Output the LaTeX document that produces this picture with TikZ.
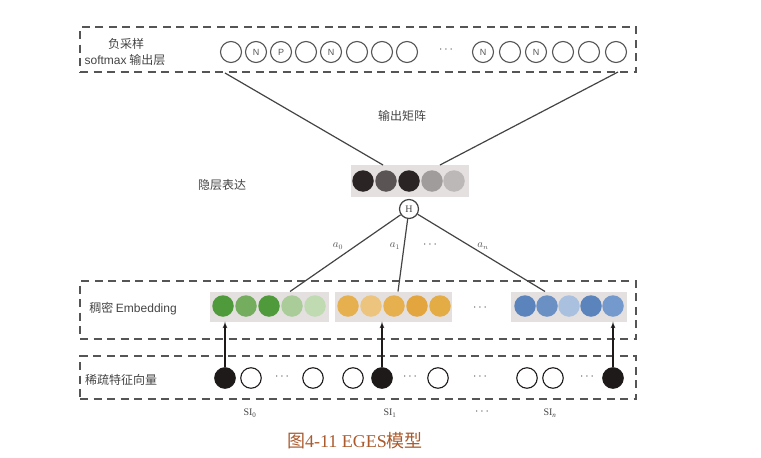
\documentclass[tikz,border=0pt]{standalone}
\usepackage{fontspec}
\setmainfont{Liberation Sans}
\newfontfamily\cjk{Noto Sans CJK SC}
\newfontfamily\serifnum{Liberation Serif}
\usetikzlibrary{shapes,arrows,positioning}
\definecolor{linegray}{HTML}{555555}
\definecolor{textgray}{HTML}{444444}
\definecolor{bggray}{HTML}{E4E0E0}
\definecolor{capcolor}{RGB}{170,90,45}
\definecolor{hidA}{HTML}{2B2424}
\definecolor{hidB}{HTML}{5A5454}
\definecolor{hidC}{HTML}{A09C9C}
\definecolor{hidD}{HTML}{BCB8B8}
\definecolor{grnA}{HTML}{4F9A3A}
\definecolor{grnB}{HTML}{75AD5E}
\definecolor{grnC}{HTML}{A9CC99}
\definecolor{grnD}{HTML}{C0DAB2}
\definecolor{orgA}{HTML}{E6B04F}
\definecolor{orgB}{HTML}{ECC47D}
\definecolor{orgC}{HTML}{E3A63E}
\definecolor{orgD}{HTML}{E3AC45}
\definecolor{bluA}{HTML}{5B84BD}
\definecolor{bluB}{HTML}{6A90C4}
\definecolor{bluC}{HTML}{A9C0DF}
\definecolor{bluD}{HTML}{7499CC}
\definecolor{sparseblack}{HTML}{1E1A1A}
\tikzstyle{layer} = [rectangle, draw=linegray, line width=1.7pt,
    dash pattern=on 8pt off 5.5pt, minimum width=556pt, inner sep=0pt]
\tikzstyle{layertext} = [font=\cjk\fontsize{12}{13}\selectfont, text=textgray, inner sep=0pt]
\tikzstyle{unit} = [circle, draw=linegray, line width=1.1pt, minimum size=21pt,
    inner sep=0pt, font=\fontsize{9}{9}\selectfont, text=linegray]
\tikzstyle{ball} = [circle, minimum size=21.5pt, inner sep=0pt]
\tikzstyle{groupbg} = [rectangle, fill=bggray, minimum height=30pt, inner sep=0pt]
\tikzstyle{sparse} = [circle, draw=sparseblack, line width=1.1pt, minimum size=20.5pt, inner sep=0pt]
\tikzstyle{dots} = [text=textgray, inner sep=0pt, font=\fontsize{12}{12}\selectfont]
\tikzstyle{weight} = [text=linegray, inner sep=0pt, font=\fontsize{10.5}{11}\selectfont]
\tikzstyle{silabel} = [text=textgray, inner sep=0pt, font=\serifnum\fontsize{10}{11}\selectfont]
\tikzstyle{line} = [draw=textgray, line width=1.2pt]
\tikzstyle{uparrow} = [draw=sparseblack, line width=1.2pt, -latex']

\begin{document}
\begin{tikzpicture}[x=1pt,y=-1pt]
		\useasboundingbox (0,0) rectangle (761,458);
		% Draw layers
		\node [layer, minimum height=45pt] (outlayer) at (358,49.5) {};
		\node [layer, minimum height=58pt] (denselayer) at (358,310) {};
		\node [layer, minimum height=43pt] (sparselayer) at (358,377.5) {};
		% Layer texts
		\node [layertext] (negtext) at (126,44) {负采样};
		\node [layertext] (softtext) at (125,60) {{\rmfamily softmax} 输出层};
		\node [layertext] (mattext) at (402,116) {输出矩阵};
		\node [layertext] (hidtext) at (222,185) {隐层表达};
		\node [layertext] (densetext) at (133,309) {稠密 {\rmfamily Embedding}};
		\node [layertext] (sparsetext) at (121,380) {稀疏特征向量};
		% Output units
		\foreach \x/\t [count=\i] in {231/,256/N,281/P,306/,331/N,357/,382/,407/}
			\node [unit] (o\i) at (\x,52) {\t};
		\node [dots] (odots) at (446,50) {$\cdots$};
		\foreach \x/\t [count=\i] in {483/N,510/,536/N,563/,589/,616/}
			\node [unit] (p\i) at (\x,52) {\t};
		% Hidden layer
		\node [groupbg, minimum width=118pt, minimum height=32pt] (hidden) at (410,181) {};
		\foreach \x/\c [count=\i] in {363/hidA,386/hidB,409/hidA,432/hidC,454/hidD}
			\node [ball, fill=\c] (h\i) at (\x,181) {};
		\node [circle, draw=textgray, fill=white, line width=1.2pt, minimum size=19pt,
			inner sep=0pt, font=\serifnum\fontsize{10}{10}\selectfont, text=textgray] (H) at (409,209) {H};
		% Dense embeddings
		\node [groupbg, minimum width=119pt] (greenbg) at (269.5,306.5) {};
		\node [groupbg, minimum width=117pt] (orangebg) at (393.5,306.5) {};
		\node [groupbg, minimum width=116pt] (bluebg) at (569,306.5) {};
		\foreach \x/\c [count=\i] in {223/grnA,246/grnB,269/grnA,292/grnC,315/grnD}
			\node [ball, fill=\c] (g\i) at (\x,306) {};
		\foreach \x/\c [count=\i] in {348/orgA,371/orgB,394/orgA,417/orgC,440/orgD}
			\node [ball, fill=\c] (y\i) at (\x,306) {};
		\foreach \x/\c [count=\i] in {525/bluA,547/bluB,569/bluC,591/bluA,613/bluD}
			\node [ball, fill=\c] (b\i) at (\x,306) {};
		\node [dots] (edots) at (480,308) {$\cdots$};
		% Sparse features
		\node [sparse, fill=sparseblack] (s1) at (225,378) {};
		\node [sparse] (s2) at (251,378) {};
		\node [dots] (sd1) at (282,377) {$\cdots$};
		\node [sparse] (s3) at (313,378) {};
		\node [sparse] (s4) at (353,378) {};
		\node [sparse, fill=sparseblack] (s5) at (382,378) {};
		\node [dots] (sd2) at (410,377) {$\cdots$};
		\node [sparse] (s6) at (438,378) {};
		\node [dots] (sd3) at (480,377) {$\cdots$};
		\node [sparse] (s7) at (527,378) {};
		\node [sparse] (s8) at (553,378) {};
		\node [dots] (sd4) at (587,377) {$\cdots$};
		\node [sparse, fill=sparseblack] (s9) at (613,378) {};
		% Side information labels
		\node [silabel] (si0) at (250,413) {SI\textsubscript{0}};
		\node [silabel] (si1) at (390,413) {SI\textsubscript{1}};
		\node [dots] (sidots) at (482,412) {$\cdots$};
		\node [silabel] (sin) at (550,413) {SI\textsubscript{\textit{n}}};
		% Weights
		\node [weight] (a0) at (338,246) {$a_0$};
		\node [weight] (a1) at (395,246) {$a_1$};
		\node [dots] (adots) at (430,245) {$\cdots$};
		\node [weight] (an) at (483,246) {$a_n$};
		% Helper coordinates
		\coordinate (outl) at (225,73);
		\coordinate (outr) at (618,72);
		\coordinate (hidl) at (383,165);
		\coordinate (hidr) at (440,165);
		\coordinate (greentop) at (290,291.5);
		\coordinate (orangetop) at (398,291.5);
		\coordinate (bluetop) at (545,291.5);
		% Draw lines connecting (arrows)
		\path [line] (hidl) -- (outl);
		\path [line] (hidr) -- (outr);
		\path [line] (H) -- (greentop);
		\path [line] (H) -- (orangetop);
		\path [line] (H) -- (bluetop);
		\path [uparrow] (s1) -- (s1 |- greenbg.south);
		\path [uparrow] (s5) -- (s5 |- orangebg.south);
		\path [uparrow] (s9) -- (s9 |- bluebg.south);
		% Caption
		\node [font=\cjk\fontsize{18}{20}\selectfont, text=capcolor, inner sep=0pt] (caption)
			at (355,441) {图{\serifnum 4-11 EGES}模型};
	\end{tikzpicture}
\end{document}
